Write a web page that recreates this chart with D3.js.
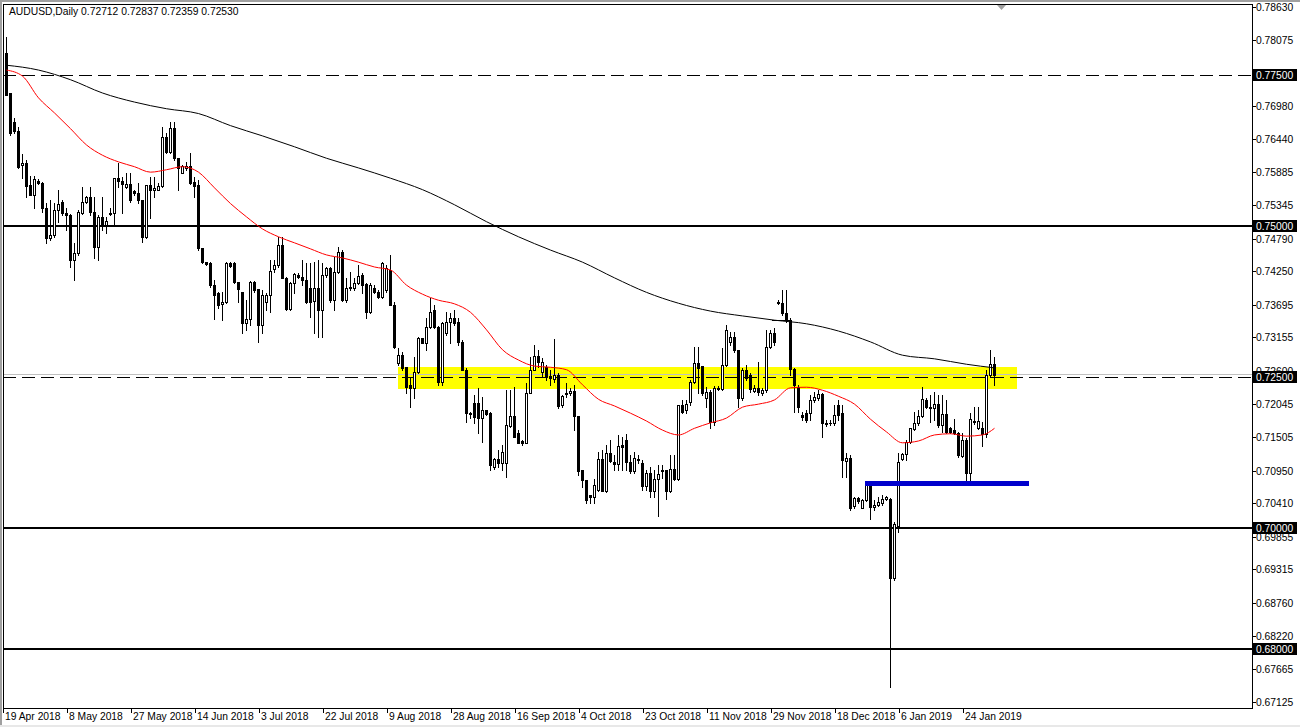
<!DOCTYPE html>
<html><head><meta charset="utf-8">
<script src="https://cdn.jsdelivr.net/npm/d3@7/dist/d3.min.js"></script>
<style>
html,body{margin:0;padding:0;background:#fff;}
svg{display:block;}
text{font-family:"Liberation Sans",Arial,sans-serif;font-size:10.3px;fill:#000;}
</style></head><body>
<svg id="c" width="1300" height="727"></svg>
<script>
const title = "AUDUSD,Daily  0.72712 0.72837 0.72359 0.72530";
const dateLabels = ["19 Apr 2018","8 May 2018","27 May 2018","14 Jun 2018","3 Jul 2018","22 Jul 2018","9 Aug 2018","28 Aug 2018","16 Sep 2018","4 Oct 2018","23 Oct 2018","11 Nov 2018","29 Nov 2018","18 Dec 2018","6 Jan 2019","24 Jan 2019"];
const dateBars = [0,16,32,48,64,80,96,112,128,144,160,176,192,208,224,240];
const priceTicks = [0.78630,0.78075,0.76980,0.76440,0.75885,0.75345,0.74790,0.74250,0.73695,0.73155,0.72600,0.72045,0.71505,0.70950,0.70410,0.69855,0.69315,0.68760,0.68220,0.67665,0.67125];
const boxedLevels = [0.77500,0.75000,0.72500,0.70000,0.68000];
const solidLevels = [0.75,0.70,0.68];
const dashedLevels = [0.775,0.725];
const bidPrice = 0.72530;
const yellowZoneBars = [98,252.75];
const yellowZonePrices = [0.7267,0.7230];
const blueZoneBars = [214.75,255.75];
const blueZonePrices = [0.7078,0.7070];
const shortLineBars = [191.5,196];
const shortLinePrice = 0.7344;

// [open, high, low, close] per daily bar
const ohlc = [
[0.7786,0.7813,0.7717,0.7717],[0.7720,0.7720,0.7651,0.7654],[0.7672,0.7679,0.7654,0.7657],[0.7657,0.7664,0.7596,0.7598],
[0.7601,0.7619,0.7579,0.7604],[0.7604,0.7609,0.7548,0.7566],[0.7568,0.7583,0.7551,0.7551],[0.7551,0.7583,0.7530,0.7578],
[0.7574,0.7578,0.7569,0.7571],[0.7571,0.7572,0.7523,0.7530],[0.7530,0.7538,0.7472,0.7480],[0.7480,0.7543,0.7477,0.7485],
[0.7485,0.7538,0.7482,0.7526],[0.7526,0.7560,0.7507,0.7536],[0.7540,0.7543,0.7518,0.7521],[0.7521,0.7530,0.7493,0.7518],
[0.7518,0.7519,0.7432,0.7444],[0.7444,0.7472,0.7410,0.7455],[0.7455,0.7526,0.7452,0.7523],[0.7521,0.7564,0.7520,0.7540],
[0.7540,0.7550,0.7538,0.7548],[0.7548,0.7564,0.7518,0.7523],[0.7523,0.7548,0.7447,0.7465],[0.7465,0.7518,0.7444,0.7515],
[0.7515,0.7548,0.7493,0.7502],[0.7502,0.7515,0.7488,0.7508],[0.7521,0.7530,0.7518,0.7520],[0.7521,0.7579,0.7502,0.7579],
[0.7579,0.7604,0.7564,0.7574],[0.7574,0.7581,0.7521,0.7569],[0.7564,0.7588,0.7563,0.7569],[0.7569,0.7588,0.7540,0.7543],
[0.7558,0.7560,0.7551,0.7555],[0.7555,0.7571,0.7538,0.7543],[0.7543,0.7543,0.7473,0.7482],[0.7482,0.7568,0.7480,0.7568],
[0.7568,0.7581,0.7513,0.7560],[0.7560,0.7581,0.7548,0.7563],[0.7560,0.7571,0.7559,0.7566],[0.7566,0.7664,0.7565,0.7647],
[0.7647,0.7654,0.7621,0.7622],[0.7622,0.7672,0.7621,0.7662],[0.7662,0.7672,0.7609,0.7612],[0.7612,0.7613,0.7560,0.7596],
[0.7588,0.7601,0.7587,0.7599],[0.7596,0.7606,0.7593,0.7599],[0.7599,0.7621,0.7570,0.7571],[0.7573,0.7581,0.7548,0.7566],
[0.7568,0.7576,0.7460,0.7463],[0.7463,0.7464,0.7439,0.7440],[0.7440,0.7441,0.7435,0.7437],[0.7439,0.7440,0.7399,0.7402],
[0.7402,0.7410,0.7346,0.7385],[0.7389,0.7390,0.7364,0.7369],[0.7371,0.7390,0.7344,0.7374],[0.7374,0.7440,0.7373,0.7439],
[0.7439,0.7440,0.7432,0.7434],[0.7439,0.7440,0.7405,0.7407],[0.7407,0.7407,0.7374,0.7395],[0.7390,0.7390,0.7323,0.7339],
[0.7339,0.7377,0.7328,0.7346],[0.7346,0.7408,0.7336,0.7407],[0.7407,0.7408,0.7390,0.7394],[0.7395,0.7396,0.7308,0.7336],
[0.7336,0.7394,0.7323,0.7385],[0.7374,0.7389,0.7361,0.7385],[0.7385,0.7444,0.7357,0.7425],[0.7429,0.7444,0.7424,0.7435],
[0.7435,0.7482,0.7432,0.7468],[0.7468,0.7482,0.7413,0.7414],[0.7414,0.7415,0.7361,0.7362],[0.7362,0.7407,0.7361,0.7405],
[0.7405,0.7422,0.7389,0.7420],[0.7419,0.7422,0.7414,0.7415],[0.7415,0.7444,0.7402,0.7410],[0.7410,0.7439,0.7373,0.7374],
[0.7397,0.7439,0.7349,0.7374],[0.7376,0.7440,0.7323,0.7397],[0.7397,0.7444,0.7316,0.7361],[0.7361,0.7439,0.7316,0.7419],
[0.7419,0.7432,0.7415,0.7430],[0.7430,0.7432,0.7374,0.7377],[0.7377,0.7449,0.7361,0.7424],[0.7424,0.7465,0.7422,0.7457],
[0.7457,0.7460,0.7376,0.7377],[0.7377,0.7414,0.7374,0.7397],[0.7397,0.7424,0.7394,0.7399],[0.7397,0.7414,0.7394,0.7405],
[0.7405,0.7435,0.7404,0.7417],[0.7419,0.7422,0.7389,0.7402],[0.7404,0.7405,0.7347,0.7357],[0.7357,0.7405,0.7356,0.7402],
[0.7397,0.7402,0.7389,0.7390],[0.7390,0.7394,0.7381,0.7382],[0.7382,0.7440,0.7381,0.7439],[0.7394,0.7435,0.7390,0.7430],
[0.7427,0.7452,0.7369,0.7369],[0.7369,0.7374,0.7298,0.7300],[0.7273,0.7298,0.7270,0.7286],[0.7286,0.7292,0.7262,0.7265],
[0.7266,0.7266,0.7223,0.7233],[0.7237,0.7250,0.7200,0.7232],[0.7232,0.7283,0.7215,0.7258],[0.7258,0.7316,0.7257,0.7314],
[0.7314,0.7314,0.7306,0.7306],[0.7306,0.7347,0.7295,0.7333],[0.7333,0.7381,0.7331,0.7357],[0.7361,0.7369,0.7331,0.7333],
[0.7333,0.7334,0.7237,0.7242],[0.7242,0.7341,0.7237,0.7339],[0.7323,0.7357,0.7320,0.7341],[0.7341,0.7356,0.7306,0.7347],
[0.7347,0.7361,0.7336,0.7339],[0.7341,0.7347,0.7303,0.7308],[0.7308,0.7311,0.7262,0.7262],[0.7262,0.7265,0.7175,0.7190],
[0.7190,0.7192,0.7182,0.7188],[0.7207,0.7220,0.7174,0.7183],[0.7207,0.7232,0.7157,0.7182],[0.7182,0.7217,0.7142,0.7195],
[0.7195,0.7195,0.7187,0.7188],[0.7190,0.7192,0.7096,0.7104],[0.7101,0.7116,0.7097,0.7114],[0.7114,0.7129,0.7101,0.7108],
[0.7108,0.7137,0.7096,0.7126],[0.7108,0.7228,0.7084,0.7170],[0.7169,0.7228,0.7167,0.7185],[0.7185,0.7233,0.7151,0.7151],
[0.7157,0.7162,0.7141,0.7141],[0.7144,0.7146,0.7137,0.7141],[0.7141,0.7240,0.7141,0.7223],[0.7223,0.7283,0.7223,0.7262],
[0.7262,0.7303,0.7262,0.7285],[0.7285,0.7295,0.7266,0.7275],[0.7258,0.7281,0.7250,0.7275],[0.7266,0.7270,0.7245,0.7250],
[0.7252,0.7262,0.7237,0.7248],[0.7247,0.7313,0.7242,0.7253],[0.7253,0.7257,0.7198,0.7202],[0.7203,0.7220,0.7200,0.7218],
[0.7222,0.7240,0.7217,0.7223],[0.7223,0.7232,0.7220,0.7227],[0.7227,0.7237,0.7162,0.7185],[0.7185,0.7185,0.7088,0.7094],
[0.7096,0.7096,0.7068,0.7079],[0.7079,0.7079,0.7041,0.7046],[0.7054,0.7054,0.7041,0.7051],[0.7051,0.7081,0.7041,0.7071],
[0.7063,0.7126,0.7062,0.7114],[0.7114,0.7129,0.7061,0.7061],[0.7061,0.7137,0.7060,0.7124],[0.7124,0.7146,0.7109,0.7111],
[0.7109,0.7121,0.7096,0.7106],[0.7106,0.7154,0.7096,0.7136],[0.7137,0.7151,0.7096,0.7134],[0.7146,0.7156,0.7096,0.7109],
[0.7109,0.7121,0.7091,0.7094],[0.7094,0.7126,0.7091,0.7116],[0.7114,0.7121,0.7108,0.7113],[0.7108,0.7113,0.7063,0.7069],
[0.7069,0.7096,0.7063,0.7091],[0.7091,0.7101,0.7051,0.7061],[0.7061,0.7096,0.7051,0.7081],[0.7081,0.7104,0.7020,0.7089],
[0.7096,0.7104,0.7083,0.7094],[0.7096,0.7096,0.7048,0.7061],[0.7061,0.7121,0.7060,0.7097],[0.7097,0.7121,0.7079,0.7081],
[0.7081,0.7203,0.7079,0.7203],[0.7203,0.7212,0.7190,0.7192],[0.7195,0.7212,0.7190,0.7205],[0.7208,0.7245,0.7203,0.7242],
[0.7242,0.7300,0.7240,0.7273],[0.7273,0.7300,0.7223,0.7265],[0.7268,0.7268,0.7220,0.7223],[0.7215,0.7233,0.7200,0.7225],
[0.7225,0.7228,0.7165,0.7175],[0.7175,0.7235,0.7170,0.7232],[0.7232,0.7235,0.7228,0.7230],[0.7230,0.7298,0.7228,0.7270],
[0.7270,0.7336,0.7268,0.7328],[0.7308,0.7324,0.7303,0.7316],[0.7316,0.7324,0.7292,0.7295],[0.7295,0.7295,0.7200,0.7215],
[0.7215,0.7265,0.7212,0.7262],[0.7262,0.7270,0.7245,0.7248],[0.7253,0.7257,0.7225,0.7230],[0.7227,0.7237,0.7225,0.7232],
[0.7232,0.7275,0.7220,0.7225],[0.7223,0.7232,0.7220,0.7228],[0.7228,0.7328,0.7225,0.7300],[0.7300,0.7328,0.7298,0.7323],
[0.7323,0.7331,0.7303,0.7308],[0.7374,0.7377,0.7371,0.7372],[0.7372,0.7394,0.7353,0.7356],[0.7356,0.7394,0.7341,0.7344],
[0.7344,0.7347,0.7253,0.7263],[0.7263,0.7265,0.7192,0.7237],[0.7233,0.7237,0.7192,0.7200],[0.7187,0.7192,0.7178,0.7183],
[0.7190,0.7195,0.7175,0.7178],[0.7190,0.7220,0.7178,0.7212],[0.7212,0.7225,0.7208,0.7217],[0.7215,0.7228,0.7212,0.7222],
[0.7222,0.7223,0.7151,0.7174],[0.7174,0.7178,0.7169,0.7172],[0.7174,0.7178,0.7170,0.7174],[0.7174,0.7203,0.7170,0.7187],
[0.7203,0.7212,0.7178,0.7187],[0.7190,0.7203,0.7084,0.7113],[0.7111,0.7124,0.7084,0.7116],[0.7116,0.7121,0.7030,0.7033],
[0.7036,0.7051,0.7033,0.7050],[0.7050,0.7051,0.7041,0.7045],[0.7033,0.7048,0.7033,0.7046],[0.7046,0.7078,0.7045,0.7073],
[0.7073,0.7078,0.7015,0.7035],[0.7035,0.7046,0.7030,0.7038],[0.7038,0.7051,0.7036,0.7043],[0.7041,0.7054,0.7038,0.7048],
[0.7048,0.7053,0.7046,0.7051],[0.7048,0.7049,0.6737,0.6917],[0.6917,0.7010,0.6914,0.7007],[0.7003,0.7124,0.6993,0.7109],
[0.7114,0.7124,0.7113,0.7123],[0.7123,0.7146,0.7113,0.7142],[0.7142,0.7165,0.7141,0.7165],[0.7164,0.7192,0.7162,0.7174],
[0.7174,0.7195,0.7170,0.7185],[0.7185,0.7233,0.7183,0.7213],[0.7212,0.7215,0.7198,0.7200],[0.7200,0.7220,0.7175,0.7198],
[0.7198,0.7225,0.7178,0.7205],[0.7205,0.7220,0.7167,0.7170],[0.7170,0.7220,0.7159,0.7188],[0.7188,0.7212,0.7157,0.7159],
[0.7165,0.7167,0.7157,0.7159],[0.7162,0.7180,0.7156,0.7157],[0.7157,0.7159,0.7118,0.7121],[0.7119,0.7157,0.7118,0.7146],
[0.7146,0.7149,0.7074,0.7091],[0.7091,0.7190,0.7074,0.7180],[0.7177,0.7200,0.7172,0.7175],[0.7165,0.7200,0.7164,0.7177],
[0.7165,0.7175,0.7136,0.7156],[0.7156,0.7262,0.7151,0.7253],[0.7253,0.7295,0.7250,0.7271],[0.72712,0.72837,0.72359,0.72530]
];

// moving averages: [bar, value]
const maRed = [[0,0.7758],[4,0.7748],[8,0.7712],[12,0.7687],[16,0.7661],[20,0.7634],[24,0.7617],[28,0.7606],[32,0.7598],[36,0.7589],[40,0.7593],[44,0.7598],[48,0.7589],[52,0.7563],[56,0.7537],[60,0.7515],[64,0.7495],[68,0.7482],[72,0.7472],[76,0.7462],[80,0.7452],[84,0.7447],[88,0.7440],[92,0.7432],[96,0.7427],[100,0.7402],[104,0.7387],[108,0.7377],[112,0.7371],[116,0.7357],[120,0.7328],[124,0.7295],[128,0.7278],[132,0.7268],[136,0.7266],[140,0.7262],[144,0.7237],[148,0.7213],[152,0.7202],[156,0.7190],[160,0.7177],[164,0.7162],[168,0.7154],[172,0.7165],[176,0.7174],[180,0.7182],[184,0.7200],[188,0.7205],[192,0.7212],[196,0.7232],[200,0.7233],[204,0.7228],[208,0.7218],[212,0.7205],[216,0.7180],[220,0.7159],[224,0.7141],[228,0.7144],[232,0.7154],[236,0.7156],[240,0.7152],[244,0.7154],[247,0.7165]];
const maBlack = [[0,0.7766],[8,0.7758],[16,0.7742],[24,0.7720],[32,0.7705],[40,0.7694],[48,0.7686],[56,0.7666],[64,0.7649],[72,0.7631],[80,0.7612],[88,0.7596],[96,0.7579],[104,0.7560],[112,0.7535],[120,0.7507],[128,0.7482],[136,0.7460],[144,0.7440],[152,0.7414],[160,0.7390],[168,0.7372],[176,0.7359],[184,0.7351],[192,0.7344],[200,0.7338],[208,0.7326],[216,0.7308],[224,0.7286],[232,0.7280],[240,0.7271],[247,0.7265]];

const L = 3, R = 1252, T = 4, B = 708;
const svg = d3.select("#c");
const x = d3.scaleLinear().domain([0, 247]).range([6, 994]);
const y = d3.scaleLinear().domain([0.6702, 0.7869]).range([708, 3]);
const px = v => Math.round(x(v));
const py = v => Math.round(y(v));

svg.append("rect").attr("x",0).attr("y",0).attr("width",1300).attr("height",727).attr("fill","#fff");
svg.append("rect").attr("x",0).attr("y",0).attr("width",1300).attr("height",2).attr("fill","#a0a0a0");
svg.append("rect").attr("x",0).attr("y",0).attr("width",2).attr("height",727).attr("fill","#a0a0a0");
svg.append("rect").attr("x",0).attr("y",725).attr("width",1300).attr("height",2).attr("fill","#e8e8e8");

svg.append("defs").append("clipPath").attr("id","plot")
  .append("rect").attr("x",L).attr("y",T).attr("width",R-L).attr("height",B-T);
const g = svg.append("g").attr("clip-path","url(#plot)").attr("shape-rendering","crispEdges");

// yellow zone
g.append("rect")
  .attr("x", px(yellowZoneBars[0])).attr("width", px(yellowZoneBars[1]) - px(yellowZoneBars[0]))
  .attr("y", py(yellowZonePrices[0])).attr("height", py(yellowZonePrices[1]) - py(yellowZonePrices[0]))
  .attr("fill","#ffff00");

// bid line
g.append("line").attr("x1",L).attr("x2",R).attr("y1",py(bidPrice)-0.5).attr("y2",py(bidPrice)-0.5)
  .attr("stroke","#c0c0c0").attr("stroke-width",1);

// dashed levels
dashedLevels.forEach(v => {
  g.append("line").attr("x1",L).attr("x2",R).attr("y1",py(v)+0.5).attr("y2",py(v)+0.5)
   .attr("stroke","#000").attr("stroke-width",1).attr("stroke-dasharray","13,6");
});
// solid levels
solidLevels.forEach(v => {
  g.append("line").attr("x1",L).attr("x2",R).attr("y1",py(v)).attr("y2",py(v))
   .attr("stroke","#000").attr("stroke-width",2);
});

// moving averages
const line = d3.line().x(d => x(d[0]) + 0.5).y(d => y(d[1])).curve(d3.curveMonotoneX);
svg.append("path").datum(maBlack).attr("d",line).attr("fill","none").attr("stroke","#000").attr("stroke-width",1).attr("clip-path","url(#plot)");
svg.append("path").datum(maRed).attr("d",line).attr("fill","none").attr("stroke","#ff0000").attr("stroke-width",1).attr("clip-path","url(#plot)");

// short horizontal line
g.append("line").attr("x1",px(shortLineBars[0])).attr("x2",px(shortLineBars[1]))
  .attr("y1",py(shortLinePrice)+0.5).attr("y2",py(shortLinePrice)+0.5).attr("stroke","#000").attr("stroke-width",1);

// candles
const cg = g.append("g");
ohlc.forEach((d, i) => {
  const [o,h,l,c] = d;
  const cx = px(i);
  cg.append("line").attr("x1",cx+0.5).attr("x2",cx+0.5).attr("y1",py(h)).attr("y2",py(l)+1)
    .attr("stroke","#000").attr("stroke-width",1);
  const yt = py(Math.max(o,c)), yb = py(Math.min(o,c));
  if (yb - yt < 1) {
    cg.append("rect").attr("x",cx-1).attr("y",yt).attr("width",3).attr("height",1).attr("fill","#000");
  } else if (c < o) {
    cg.append("rect").attr("x",cx-1).attr("y",yt).attr("width",3).attr("height",yb-yt+1).attr("fill","#000");
  } else {
    cg.append("rect").attr("x",cx-0.5).attr("y",yt+0.5).attr("width",2).attr("height",yb-yt)
      .attr("fill","#fff").attr("stroke","#000").attr("stroke-width",1);
  }
});

// blue zone
g.append("rect")
  .attr("x", px(blueZoneBars[0])).attr("width", px(blueZoneBars[1]) - px(blueZoneBars[0]))
  .attr("y", py(blueZonePrices[0])).attr("height", Math.max(5, py(blueZonePrices[1]) - py(blueZonePrices[0])))
  .attr("fill","#0000cc");

// frame
const fr = svg.append("g").attr("shape-rendering","crispEdges");
fr.append("line").attr("x1",L).attr("x2",R+1).attr("y1",T+0.5).attr("y2",T+0.5).attr("stroke","#000");
fr.append("line").attr("x1",L+0.5).attr("x2",L+0.5).attr("y1",T).attr("y2",B+1).attr("stroke","#000");
fr.append("line").attr("x1",R+0.5).attr("x2",R+0.5).attr("y1",T).attr("y2",B+1).attr("stroke","#000");
fr.append("line").attr("x1",L).attr("x2",R+1).attr("y1",B+0.5).attr("y2",B+0.5).attr("stroke","#000");

// shift marker triangle
svg.append("path").attr("d","M997,5 L1006,5 L1001.5,10 Z").attr("fill","#a0a0a0");

// title
svg.append("text").attr("x",9).attr("y",15).text(title);

// price axis
priceTicks.forEach(v => {
  fr.append("line").attr("x1",R).attr("x2",R+4).attr("y1",py(v)+0.5).attr("y2",py(v)+0.5).attr("stroke","#000");
  svg.append("text").attr("x",1256).attr("y",py(v)+3.5).text(v.toFixed(5));
});
boxedLevels.forEach(v => {
  svg.append("rect").attr("x",R+1).attr("y",py(v)-6).attr("width",44).attr("height",12).attr("fill","#000");
  svg.append("text").attr("x",1256).attr("y",py(v)+3.5).style("fill","#fff").text(v.toFixed(5));
});

// date axis
dateBars.forEach((b, k) => {
  fr.append("line").attr("x1",px(b)-2.5).attr("x2",px(b)-2.5).attr("y1",B).attr("y2",B+5).attr("stroke","#000");
  svg.append("text").attr("x",px(b)-1).attr("y",720).text(dateLabels[k]);
});
</script>
</body></html>
